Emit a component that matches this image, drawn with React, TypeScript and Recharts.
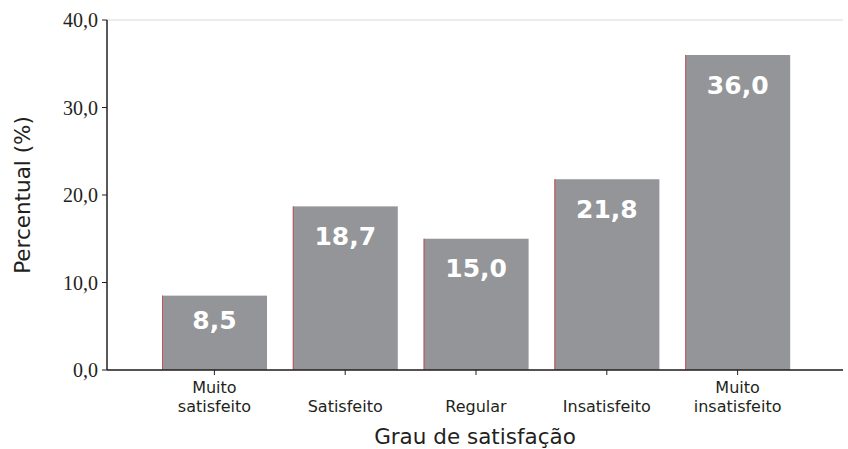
import React from 'react';
import { BarChart, Bar, XAxis, YAxis, CartesianGrid, LabelList, Label } from 'recharts';

const categories = ['Muito\nsatisfeito', 'Satisfeito', 'Regular', 'Insatisfeito', 'Muito\ninsatisfeito'];
const values = [8.5, 18.7, 15.0, 21.8, 36.0];
const yTicks = [0, 10, 20, 30, 40];

const data = categories.map((name, i) => ({ name, value: values[i] }));

const fmt = (v: number) => v.toFixed(1).replace('.', ',');

const SANS = '"DejaVu Sans", sans-serif';
const SERIF = '"Liberation Serif", "Times New Roman", serif';

// bar with the thin red edge on its left side
const EdgeBar = (props: any) => {
  const { x, y, width, height } = props;
  return (
    <g>
      <rect x={x} y={y} width={width} height={height} fill="#939598" />
      <line x1={x + 0.5} y1={y} x2={x + 0.5} y2={y + height} stroke="#c8505a" strokeWidth={1} />
    </g>
  );
};

const CatTick = (props: any) => {
  const { x, y, payload } = props;
  const lines = String(payload.value).split('\n');
  return (
    <g>
      {lines.map((ln, i) => (
        <text
          key={i}
          x={x}
          y={y + 35 - (lines.length - 1 - i) * 19}
          textAnchor="middle"
          fontFamily={SANS}
          fontSize={16}
          fill="#231f20"
        >
          {ln}
        </text>
      ))}
    </g>
  );
};

const ValueLabel = (props: any) => {
  const { x, y, width, height, value } = props;
  const dy = Math.min(30, height * 0.33);
  return (
    <text
      x={x + width / 2}
      y={y + dy}
      textAnchor="middle"
      dominantBaseline="central"
      fontFamily={SANS}
      fontWeight="bold"
      fontSize={25}
      fill="#ffffff"
    >
      {fmt(Number(value))}
    </text>
  );
};

export default function App() {
  return (
    <div style={{ position: 'absolute', left: 0, top: 0, background: '#fff' }}>
      <BarChart width={848} height={449} data={data} margin={{ top: 20, right: 5, bottom: 0, left: 0 }}>
        <CartesianGrid vertical={false} stroke="#d9d9d9" />
        <XAxis
          dataKey="name"
          interval={0}
          padding={{ left: 42, right: 40 }}
          height={79}
          tick={<CatTick />}
          tickSize={5}
          axisLine={{ stroke: '#231f20', strokeWidth: 1.5 }}
          tickLine={{ stroke: '#231f20' }}
        >
          <Label
            value="Grau de satisfação"
            position="insideBottom"
            offset={5}
            style={{ fontFamily: SANS, fontSize: 21.5, fill: '#231f20' }}
          />
        </XAxis>
        <YAxis
          yAxisId="left"
          domain={[0, 40]}
          ticks={yTicks}
          width={107}
          tickFormatter={fmt}
          tickSize={5}
          tickMargin={4}
          axisLine={{ stroke: '#231f20', strokeWidth: 1.5 }}
          tickLine={{ stroke: '#231f20' }}
          tick={{ fontFamily: SERIF, fontSize: 20, fill: '#231f20' }}
        >
          <Label
            value="Percentual (%)"
            angle={-90}
            position="insideLeft"
            offset={22}
            style={{ fontFamily: SANS, fontSize: 21.5, fill: '#231f20', textAnchor: 'middle' }}
          />
        </YAxis>
        <YAxis
          yAxisId="right"
          orientation="right"
          domain={[0, 40]}
          width={0}
          tick={false}
          tickLine={false}
          axisLine={{ stroke: '#231f20', strokeWidth: 1.5 }}
        />
        <Bar yAxisId="left" dataKey="value" barSize={105} shape={<EdgeBar />} isAnimationActive={false}>
          <LabelList dataKey="value" content={<ValueLabel />} />
        </Bar>
      </BarChart>
    </div>
  );
}
